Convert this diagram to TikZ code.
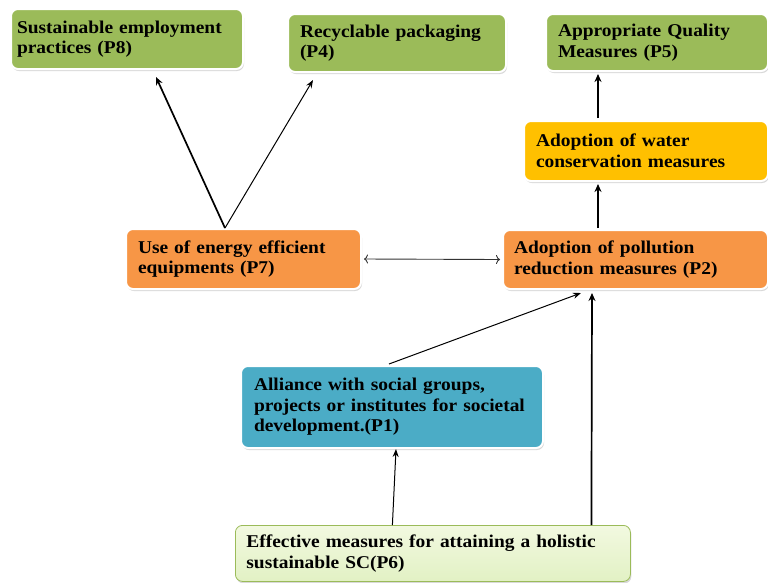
\documentclass[tikz,border=0pt]{standalone}
\usepackage{fontspec}
\setmainfont{Liberation Serif}[FakeStretch=1.08]
\usepackage{xcolor}
\usetikzlibrary{shadows,arrows,arrows.meta}
\definecolor{leafgreen}{HTML}{9BBB59}
\definecolor{rustorange}{HTML}{F79646}
\definecolor{watergold}{HTML}{FFC000}
\definecolor{socialteal}{HTML}{4BACC6}
\definecolor{paletop}{HTML}{F2F9E0}
\definecolor{palebottom}{HTML}{E2F1C4}
\tikzset{
     box node/.style={rectangle, rounded corners=7pt, draw=white, line width=2pt,
        anchor=north west, inner xsep=12pt, inner ysep=4pt, align=left,
        font=\fontsize{18}{20.5}\selectfont\bfseries,
        drop shadow={shadow xshift=1pt, shadow yshift=-2pt, opacity=0.3, fill=gray}},
      goal node/.style = {box node, fill=leafgreen},
      step node/.style = {box node, fill=rustorange},
      water node/.style = {box node, fill=watergold},
      social node/.style = {box node, fill=socialteal},
      base node/.style = {box node, draw=leafgreen, line width=0.8pt,
        top color=paletop, bottom color=palebottom},
      thickedge/.style   = {black, ->, >={Stealth[length=8pt,width=7pt]}, line width=1.7pt},
      thinedge/.style = {black, ->, >={Stealth[length=8pt,width=6pt]}, line width=1pt},
      bothedge/.style = {black!80, <->, >={To[length=4pt,width=9pt]}, line width=0.9pt},
    }

\begin{document}
\begin{tikzpicture}[x=1pt,y=-1pt]
            \useasboundingbox (0,0) rectangle (768,582);
            \clip (0,0) rectangle (768,582);
            \node [goal node, minimum width=232pt, minimum height=60pt, text width=220pt, inner xsep=6pt] (p8) at (10,8)
                  {Sustainable employment\\practices (P8)};
            \node [goal node, minimum width=218pt, minimum height=58pt, text width=194pt] (p4) at (287,13)
                  {Recyclable packaging\\(P4)};
            \node [goal node, minimum width=222pt, minimum height=57pt, text width=198pt] (p5) at (545,13)
                  {Appropriate Quality\\Measures (P5)};
            \node [water node, minimum width=244pt, minimum height=60pt, text width=220pt] (w) at (523,120)
                  {Adoption of water\\conservation measures};
            \node [step node, minimum width=235pt, minimum height=60pt, text width=211pt] (p7) at (125,228)
                  {Use of energy efficient\\equipments (P7)};
            \node [step node, minimum width=265pt, minimum height=59pt, text width=243pt, inner xsep=10pt] (p2) at (502,229)
                  {Adoption of pollution\\reduction measures (P2)};
            \node [social node, minimum width=302pt, minimum height=82pt, text width=276pt, inner xsep=13pt] (p1) at (240,365)
                  {Alliance with social groups,\\projects or institutes for societal\\development.(P1)};
            \node [base node, minimum width=395pt, minimum height=56pt, text width=373pt, inner xsep=11pt] (p6) at (235,525)
                  {Effective measures for attaining a holistic\\sustainable SC(P6)};

            \path[thickedge]
            ([xshift=-18.5pt]p7.north) edge ([xshift=29pt,yshift=-7pt]p8.south)
            ([xshift=-37.5pt,yshift=1pt]p2.north) edge ([xshift=-48pt,yshift=-2pt]w.south)
            ([xshift=-48pt,yshift=2pt]w.north) edge ([xshift=-59pt,yshift=-2pt]p5.south)
            ([xshift=158.5pt]p6.north) edge ([xshift=-43.5pt,yshift=-3pt]p2.south);
            \path[thinedge]
            ([xshift=-18.5pt]p7.north) edge ([xshift=-84pt,yshift=-7pt]p4.south)
            ([xshift=-3pt,yshift=1pt]p1.north) edge ([xshift=-54.5pt,yshift=-3pt]p2.south)
            ([xshift=-40.5pt]p6.north) edge ([xshift=4pt]p1.south);
            \path[bothedge]
            ([xshift=2pt]p7.east) edge ([xshift=-2pt]p2.west);
      \end{tikzpicture}
\end{document}
